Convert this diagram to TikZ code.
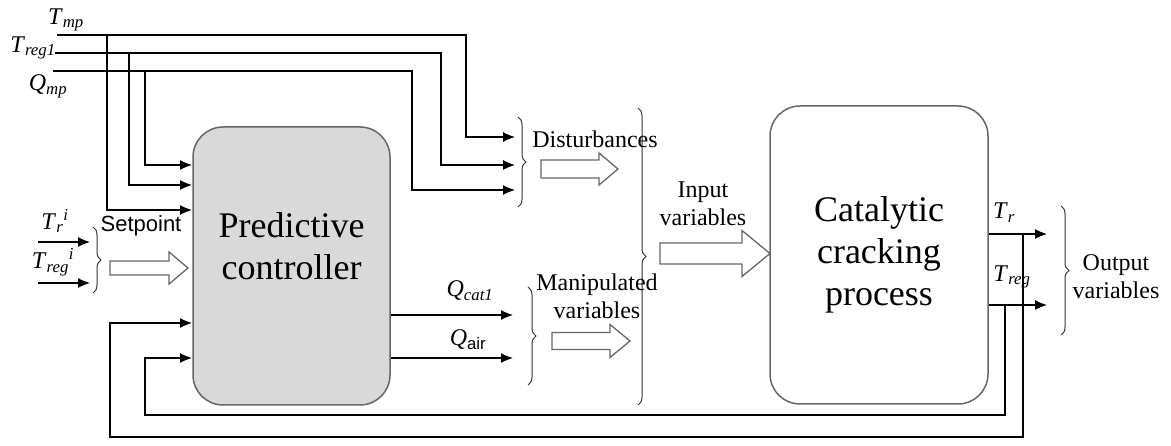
\documentclass[tikz,border=0pt]{standalone}
\usepackage{fontspec}
\setmainfont{Liberation Serif}
\newfontfamily\setptfont{Liberation Sans}
\usepackage{tikz}
\usetikzlibrary{positioning,arrows.meta,decorations.pathreplacing}

\newcommand{\varlbl}[2]{\textit{#1}\textsubscript{\textit{#2}}}

\tikzset{
  blockbox/.style={draw=black!60, line width=1.5pt, rounded corners=30pt, align=center,
    font=\fontsize{36}{42}\selectfont},
  sig/.style={line width=1.2pt},
  hollow/.style={draw=black!60, line width=1.3pt, fill=white},
  curly/.style={decorate, decoration={brace, amplitude=8pt}, line width=1pt, black!80},
  lbl/.style={font=\fontsize{24}{28}\selectfont, align=center, inner sep=0pt},
}

\begin{document}
\begin{tikzpicture}[x=1pt, y=-1pt, >={Latex[length=12pt,width=10pt]}]
  \useasboundingbox (0,0) rectangle (1171,446);

  % blocks
  \node[blockbox, fill=black!15, minimum width=197pt, minimum height=278pt] (ctrl) at (291.5,266) {};
  \node[font=\fontsize{36}{42}\selectfont, align=center] (ctrltext) at (291.5,246) {Predictive\\controller};
  \node[blockbox, minimum width=218pt, minimum height=298pt] (proc) at (879,255) {Catalytic\\cracking\\process};

  % measured signals
  \coordinate (tmp) at (57,35);
  \coordinate (treg) at (55,53);
  \coordinate (qmp) at (53,71);
  \node[lbl] (tmplbl) at (66,20) {\varlbl{T}{mp}};
  \node[lbl] (treglbl) at (33,48) {\varlbl{T}{reg1}};
  \node[lbl] (qmplbl) at (48,86) {\varlbl{Q}{mp}};

  \coordinate (d1) at (515,137);
  \coordinate (d2) at (515,165);
  \coordinate (d3) at (515,190);
  \coordinate (c1) at (192,165);
  \coordinate (c2) at (192,185);
  \coordinate (c3) at (192,210);
  \coordinate (c4) at (192,323);
  \coordinate (c5) at (192,358);

  \draw[sig, ->] (tmp) -| ([xshift=-49pt]d1) -- (d1);
  \draw[sig, ->] (treg) -| ([xshift=-74pt]d2) -- (d2);
  \draw[sig, ->] (qmp) -| ([xshift=-103pt]d3) -- (d3);
  \draw[sig, ->] ([xshift=50pt]tmp) |- (c3);
  \draw[sig, ->] ([xshift=74pt]treg) |- (c2);
  \draw[sig, ->] ([xshift=92pt]qmp) |- (c1);

  % setpoint
  \coordinate (s1) at (38,242);
  \coordinate (s1e) at (90,242);
  \coordinate (s2) at (38,283);
  \coordinate (s2e) at (90,283);
  \node[lbl] (trilbl) at (55,221) {\textit{T}\textsubscript{\textit{r}}\textsuperscript{\textit{i}}};
  \node[lbl] (tregilbl) at (53,262) {\textit{T}\textsubscript{\textit{reg}}\textsuperscript{\textit{i}}};
  \draw[sig, ->] (s1) -- (s1e);
  \draw[sig, ->] (s2) -- (s2e);
  \draw[curly] (93,227) -- (93,293);
  \node[lbl, font=\setptfont\fontsize{22}{26}\selectfont] (splbl) at (141,226) {Setpoint};

  % controller outputs
  \coordinate (m1) at (513,315);
  \coordinate (m2) at (513,358);
  \draw[sig, ->] (ctrl.east |- m1) -- (m1);
  \draw[sig, ->] (ctrl.east |- m2) -- (m2);
  \node[lbl] (qcatlbl) at (470,291) {\varlbl{Q}{cat1}};
  \node[lbl] (qairlbl) at (468,340) {\textit{Q}\textsubscript{\setptfont air}};

  % process outputs and feedback
  \coordinate (yr) at (1047,234);
  \coordinate (yreg) at (1047,305);
  \draw[sig, ->] (proc.east |- yr) -- (yr);
  \draw[sig, ->] (proc.east |- yreg) -- (yreg);
  \draw[sig, ->] ([xshift=-24pt]yr) -- ++(0,203) -| ([xshift=-82pt]c4) -- (c4);
  \draw[sig, ->] ([xshift=-42pt]yreg) -- ++(0,110) -| ([xshift=-47pt]c5) -- (c5);
  \node[lbl] (trlbl) at (1004,213) {\varlbl{T}{r}};
  \node[lbl] (tregolbl) at (1012,277) {\varlbl{T}{reg}};

  % braces and labels
  \draw[curly] (518,117) -- (518,207);
  \draw[curly] (528,287) -- (528,385);
  \draw[curly] (638,108) -- (638,405);
  \draw[curly] (1061,206) -- (1061,335);
  \node[lbl] (distlbl) at (595,139) {Disturbances};
  \node[lbl] (manlbl) at (597,296) {Manipulated\\variables};
  \node[lbl] (inlbl) at (703,204) {Input\\variables};
  \node[lbl] (outlbl) at (1116,277) {Output\\variables};

  % hollow arrows
  \foreach \xa/\xb/\yc/\sh/\hd/\hl in {110/188/268/7/16/19, 541/618/169/9/16/19,
      552/630/341/8.5/16.5/20, 660/770/253.5/10.5/23/28}
    \draw[hollow] (\xa,\yc-\sh) -- (\xb-\hl,\yc-\sh) -- (\xb-\hl,\yc-\hd) -- (\xb,\yc)
      -- (\xb-\hl,\yc+\hd) -- (\xb-\hl,\yc+\sh) -- (\xa,\yc+\sh) -- cycle;
\end{tikzpicture}
\end{document}
